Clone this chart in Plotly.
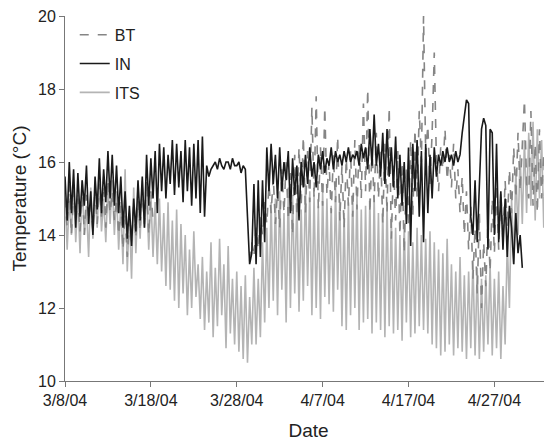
import pandas as pd
import plotly.graph_objects as go

# 6-hourly readings starting 3/8/04 00:00
its_start = "2004-03-08 00:00"
its = [
    15.2, 13.6, 15.0, 14.0,  15.4, 13.8, 15.1, 13.5,  15.5, 14.0, 14.8, 13.4,  15.3, 13.9, 15.2, 14.2,
    15.6, 14.1, 15.0, 13.8,  15.4, 14.3, 15.5, 14.0,  15.2, 13.6, 14.9, 13.2,  15.8, 13.0, 14.6, 12.8,
    15.3, 13.5, 15.0, 13.9,  15.5, 14.2, 15.2, 13.6,  15.1, 13.4, 14.9, 13.2,  15.0, 13.0, 14.6, 12.6,
    14.9, 12.5, 14.4, 12.2,  14.7, 12.0, 14.3, 12.4,  14.0, 11.8, 13.6, 12.0,  14.1, 12.3, 13.2, 11.7,
    13.4, 11.4, 13.0, 11.6,  13.8, 11.2, 13.1, 11.5,  13.9, 11.8, 13.2, 10.9,  13.7, 11.3, 12.8, 11.0,
    13.0, 10.8, 12.6, 10.6,  12.9, 10.5, 12.3, 11.0,  13.1, 11.0, 12.8, 11.2,  13.8, 11.6, 14.2, 12.0,
    14.9, 12.2, 15.0, 11.8,  15.2, 12.5, 14.6, 11.6,  15.3, 12.0, 15.1, 12.4,  15.0, 11.9, 14.7, 12.2,
    15.4, 12.6, 15.2, 11.8,  15.1, 12.0, 14.8, 11.7,  15.2, 12.3, 15.0, 12.1,  14.8, 11.9, 15.3, 12.5,
    15.0, 11.5, 14.6, 11.4,  14.9, 11.8, 15.1, 12.0,  15.2, 11.4, 14.7, 11.6,  14.8, 11.7, 15.0, 11.3,
    15.1, 11.6, 14.6, 11.4,  14.7, 11.2, 14.9, 11.5,  14.5, 11.3, 14.2, 11.4,  14.0, 11.1, 14.3, 11.6,
    14.1, 11.2, 13.8, 11.3,  14.2, 11.5, 14.0, 11.4,  13.9, 11.3, 14.1, 11.0,  13.8, 10.9, 13.6, 10.7,
    13.5, 10.8, 13.9, 11.0,  13.2, 10.7, 13.0, 10.9,  13.4, 10.8, 12.9, 10.6,  13.0, 10.9, 13.3, 10.7,
    13.1, 10.6, 12.8, 10.8,  12.9, 11.0, 13.2, 10.7,  12.8, 10.9, 13.0, 10.6,  12.6, 11.0, 13.8, 12.0,
    15.0, 13.2, 15.8, 14.0,  16.2, 14.3, 16.6, 14.6,  16.8, 14.8, 17.1, 14.4,  16.9, 15.0, 16.6, 14.2,
    16.4, 14.5, 16.8, 14.8,
]

in_start = "2004-03-08 00:00"
in_vals = [
    15.6, 14.4, 16.0, 14.6,  15.8, 14.2, 15.7, 14.5,  15.5, 14.8, 15.9, 14.3,  15.2, 14.0, 15.6, 14.7,
    16.1, 14.6, 15.8, 14.9,  16.3, 15.0, 16.2, 14.8,  15.9, 14.6, 15.6, 14.2,  15.2, 13.9, 14.8, 13.7,
    15.0, 14.1, 15.5, 14.4,  15.6, 14.2, 16.2, 14.8,  16.1, 15.0, 16.3, 14.6,  16.5, 15.2, 16.4, 15.0,
    16.2, 15.4, 16.6, 15.1,  16.5, 15.3, 16.3, 14.9,  16.6, 15.2, 16.4, 14.8,  16.5, 15.0, 16.6, 14.6,
    16.7, 14.5, 15.9, 15.6,  15.8, 15.9, 16.0, 15.8,  16.1, 15.9, 15.8, 16.0,  16.0, 15.8, 16.1, 15.9,
    15.9, 16.0, 15.7, 15.9,  15.8, 14.5, 13.2, 13.5,  15.4, 13.2, 15.5, 13.4,  15.5, 13.8, 16.4, 15.2,
    16.5, 15.4, 16.2, 15.0,  16.4, 15.2, 16.0, 15.5,  16.3, 14.6, 16.1, 15.1,  15.9, 14.4, 16.0, 15.3,
    16.2, 15.4, 16.4, 15.6,  16.0, 15.3, 16.2, 15.8,  16.3, 15.7, 16.1, 15.9,  16.4, 15.8, 16.3, 16.0,
    16.2, 15.9, 16.3, 16.0,  16.4, 16.0, 16.2, 16.1,  16.3, 15.9, 16.5, 16.1,  16.4, 15.8, 16.9, 15.9,
    17.3, 15.9, 16.5, 15.6,  16.8, 15.4, 16.9, 15.6,  16.4, 15.3, 16.7, 15.0,  16.2, 14.8, 16.0, 14.3,
    16.4, 13.7, 16.5, 15.2,  16.6, 14.5, 16.3, 13.8,  16.5, 14.6, 16.2, 15.0,  16.4, 15.6, 16.2, 15.9,
    16.3, 16.0, 16.4, 16.0,  16.2, 15.9, 16.3, 16.0,  16.2, 16.8, 17.3, 17.7,  17.6, 14.5, 14.0, 15.5,
    13.8, 15.6, 16.9, 17.2,  17.0, 13.6, 16.9, 16.8,  14.0, 16.5, 13.8, 15.2,  13.6, 15.0, 13.4, 14.8,
    14.2, 13.2, 14.6, 13.5,  14.0, 13.1,
]

bt_start_1 = "2004-03-08 00:00"
bt_1 = [
    15.0, 14.2, 15.4, 14.0,  15.2, 14.4, 15.0, 14.1,  15.3, 14.0, 15.1, 14.5,  14.8, 14.1, 15.3, 14.3,
    15.4, 14.5, 15.6, 14.2,  15.5, 14.6, 15.2, 14.4,  15.0, 14.0, 14.8, 13.6,  14.6, 13.4, 14.4, 13.8,
    14.9, 13.9, 15.2, 14.1,  15.3, 14.3, 15.5, 14.0,  15.2, 14.4,
]
bt_start_2 = "2004-03-29 12:00"
bt_2 = [
    13.3, 13.8,
    13.4, 14.2, 13.6, 14.5,  14.0, 14.9, 14.3, 15.4,  14.6, 15.6, 14.3, 15.2,  14.2, 15.8, 14.6, 16.0,
    14.4, 15.7, 14.0, 16.2,  14.5, 16.4, 14.8, 16.7,  14.6, 16.3, 14.9, 17.5,  15.0, 17.8, 14.7, 16.4,
    14.8, 17.5, 15.1, 16.0,  14.6, 16.2, 14.9, 16.7,  14.4, 15.9, 14.2, 16.1,  14.8, 16.3, 14.5, 16.6,
    14.7, 16.5, 15.0, 17.6,  15.2, 18.0, 14.6, 16.4,  14.9, 16.8, 15.0, 16.3,  14.3, 16.5, 14.6, 17.5,
    13.9, 15.9, 14.4, 16.3,  14.0, 16.0, 13.5, 15.8,  14.2, 16.6, 14.5, 16.9,  15.0, 17.4, 16.0, 20.0,
    16.2, 17.0, 15.4, 16.8,  19.0, 16.0, 15.2, 16.4,  15.8, 16.9, 15.5, 16.2,  15.3, 16.5, 15.0, 15.8,
    14.6, 15.6, 14.0, 15.2,  13.6, 14.8, 12.8, 14.2,  12.4, 14.6, 12.0, 13.8,  12.6, 14.4, 13.0, 15.0,
    13.5, 15.4, 13.6, 15.2,  13.8, 15.5, 14.2, 15.8,  14.6, 16.4, 15.0, 16.8,  15.2, 16.6, 17.7, 15.4,
    15.0, 17.4, 14.8, 16.5,  14.6, 16.9, 15.0, 16.2,  14.5, 16.0,
]

y_ticks = [10, 12, 14, 16, 18, 20]

its_t = pd.date_range(its_start, periods=len(its), freq="6h")
in_t = pd.date_range(in_start, periods=len(in_vals), freq="6h")
bt_t1 = pd.date_range(bt_start_1, periods=len(bt_1), freq="6h")
bt_t2 = pd.date_range(bt_start_2, periods=len(bt_2), freq="6h")
bt_t = list(bt_t1) + [bt_t1[-1] + pd.Timedelta(hours=3)] + list(bt_t2)
bt = bt_1 + [None] + bt_2

font = "Liberation Sans, Arial, sans-serif"
fig = go.Figure()
fig.add_trace(go.Scatter(x=its_t, y=its, mode="lines", name="ITS", legendrank=3,
                         legendgroup="c",
                         line=dict(color="#b4b4b4", width=1.6)))
fig.add_trace(go.Scatter(x=bt_t, y=bt, mode="lines", name="BT", legendrank=1,
                         legendgroup="a", connectgaps=False,
                         line=dict(color="#858585", width=1.6, dash="dash")))
fig.add_trace(go.Scatter(x=in_t, y=in_vals, mode="lines", name="IN", legendrank=2,
                         legendgroup="b",
                         line=dict(color="#1a1a1a", width=1.6)))

# the page body adds an 8px offset, so the figure is sized to the visible area
fig.update_layout(
    width=544, height=433,
    margin=dict(l=57, r=0, t=8, b=60, autoexpand=False),
    paper_bgcolor="white", plot_bgcolor="white",
    font=dict(family=font, size=16, color="#222"),
    showlegend=True,
    legend=dict(x=0.02, y=0.995, xanchor="left", yanchor="top",
                bgcolor="rgba(0,0,0,0)", font=dict(size=16, color="#222"),
                itemwidth=30, tracegroupgap=5, traceorder="grouped"),
    xaxis=dict(
        range=["2004-03-08 00:00", "2004-05-03 17:00"],
        tickmode="linear", tick0="2004-03-08", dtick=10 * 86400000,
        tickformat="%-m/%-d/%y", automargin=False, ticklabeloverflow="allow",
        showgrid=False, zeroline=False,
        showline=True, linecolor="#777", linewidth=1,
        ticks="outside", ticklen=5, tickcolor="#777",
        title=dict(text="Date", standoff=15),
    ),
    yaxis=dict(
        range=[10, 20], tickvals=y_ticks, automargin=False, ticklabeloverflow="allow",
        showgrid=False, zeroline=False,
        showline=True, linecolor="#777", linewidth=1,
        ticks="outside", ticklen=5, tickcolor="#777",
        title=dict(text="Temperature (°C)", standoff=6),
    ),
)

fig.write_html("out.html")
